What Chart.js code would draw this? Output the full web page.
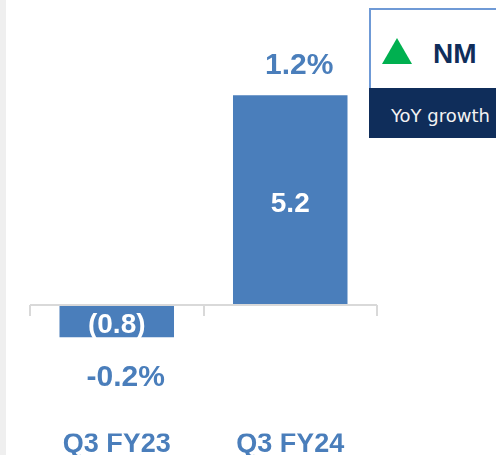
<!DOCTYPE html>
<html>
<head>
<meta charset="utf-8">
<script src="https://cdn.jsdelivr.net/npm/chart.js@4/dist/chart.umd.min.js"></script>
<style>
  html, body { margin: 0; padding: 0; background: #ffffff; overflow: hidden; }
  .wrap { position: relative; width: 496px; height: 455px; }
  .strip { position: absolute; left: 0; top: 0; width: 6px; height: 455px; background: #efefef; }
  #chart { position: absolute; left: 0; top: 0; }
  .key { position: absolute; left: 369px; top: 8px; width: 140px; }
  .key-top { height: 78px; border: 2px solid #6f9ad6; border-right: none; border-bottom: none; background: #fff; position: relative; }
  .tri { position: absolute; left: 11px; top: 28px; width: 0; height: 0;
         border-left: 15px solid transparent; border-right: 15px solid transparent; border-bottom: 26px solid #00b050; }
  .nm { position: absolute; left: 62px; top: 28px; font: bold 28px "Liberation Sans", Arial, sans-serif; color: #0f2d5a; }
  .key-bot { height: 50px; background: #0f2d5a; color: #f2f2f2; font: 18px "DejaVu Sans", sans-serif;
             box-sizing: border-box; line-height: 50px; padding: 3px 0 0 22px; white-space: nowrap; }
</style>
</head>
<body>
<div class="wrap">
  <div class="strip"></div>
  <canvas id="chart" width="496" height="455"></canvas>
  <div class="key">
    <div class="key-top"><div class="tri"></div><div class="nm">NM</div></div>
    <div class="key-bot">YoY growth</div>
  </div>
</div>
<script>
// Quarterly values and year-over-year growth
const quarters = ['Q3 FY23', 'Q3 FY24'];
const values = [-0.8, 5.2];
const growth = [-0.2, 1.2];

const blue = '#4a7ebb';

function fmtValue(v) {
    return v < 0 ? '(' + Math.abs(v).toFixed(1) + ')' : v.toFixed(1);
}
function fmtGrowth(g) {
    return g.toFixed(1) + '%';
}

// zero line with small ticks at category boundaries
const zeroAxis = {
    id: 'zeroAxis',
    afterDatasetsDraw(chart) {
        const { ctx, chartArea, scales: { y } } = chart;
        const y0 = y.getPixelForValue(0);
        const step = (chartArea.right - chartArea.left) / quarters.length;
        ctx.save();
        ctx.strokeStyle = '#d9d9d9';
        ctx.lineWidth = 2;
        ctx.beginPath();
        ctx.moveTo(chartArea.left, y0);
        ctx.lineTo(chartArea.right, y0);
        for (let i = 0; i <= quarters.length; i++) {
            const bx = Math.round(chartArea.left + step * i);
            ctx.moveTo(bx, y0);
            ctx.lineTo(bx, y0 + 11);
        }
        ctx.stroke();
        ctx.restore();
    }
};

// value inside each bar, growth above / below it
const barLabels = {
    id: 'barLabels',
    afterDatasetsDraw(chart) {
        const { ctx } = chart;
        const meta = chart.getDatasetMeta(0);
        ctx.save();
        ctx.textAlign = 'center';
        ctx.textBaseline = 'alphabetic';
        meta.data.forEach((bar, i) => {
            const v = values[i];
            const top = Math.min(bar.y, bar.base);
            const bottom = Math.max(bar.y, bar.base);
            ctx.fillStyle = '#ffffff';
            ctx.font = 'bold 28px "Liberation Sans", Arial, sans-serif';
            ctx.fillText(fmtValue(v), bar.x, (top + bottom) / 2 + 11.5);

            ctx.fillStyle = blue;
            ctx.font = 'bold 30px "Liberation Sans", Arial, sans-serif';
            const gy = v >= 0 ? top - 21 : bottom + 49;
            ctx.fillText(fmtGrowth(growth[i]), bar.x + 9, gy);
        });
        ctx.restore();
    }
};

new Chart(document.getElementById('chart'), {
    type: 'bar',
    data: {
        labels: quarters,
        datasets: [{
            data: values,
            backgroundColor: blue,
            borderWidth: 0,
            categoryPercentage: 1,
            barPercentage: 0.66
        }]
    },
    options: {
        responsive: false,
        animation: false,
        layout: { padding: { left: 30, right: 119, top: 63, bottom: 0 } },
        plugins: {
            legend: { display: false },
            tooltip: { enabled: false }
        },
        scales: {
            y: {
                display: false,
                min: -3.18,
                max: 6
            },
            x: {
                grid: { display: false, drawTicks: false },
                border: { display: false },
                ticks: {
                    color: blue,
                    padding: 0,
                    font: { family: '"Liberation Sans", Arial, sans-serif', size: 27, weight: 'bold', lineHeight: 0.8 }
                }
            }
        }
    },
    plugins: [zeroAxis, barLabels]
});
</script>
</body>
</html>
